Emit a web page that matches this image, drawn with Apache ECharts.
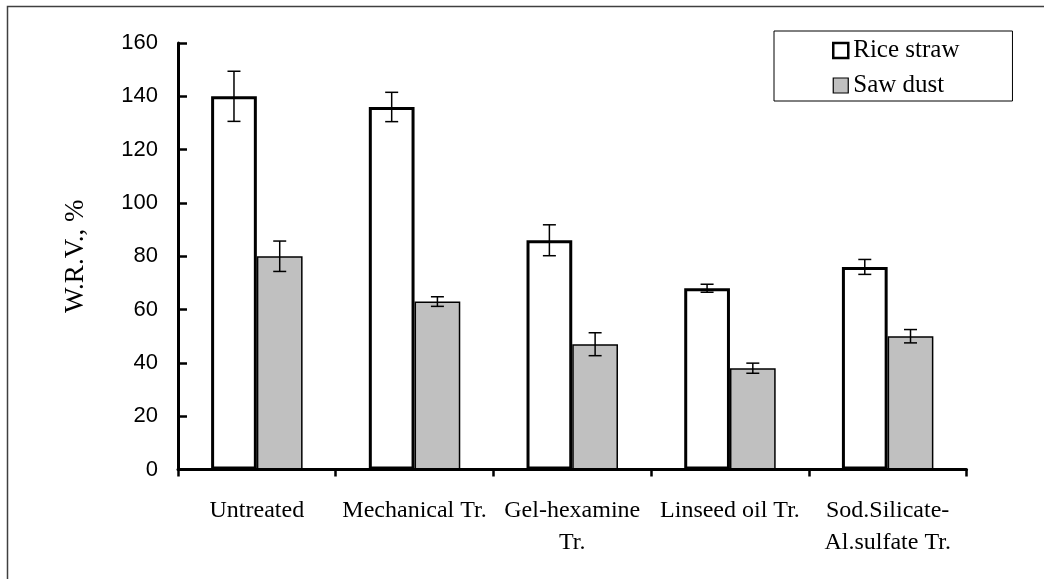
<!DOCTYPE html>
<html>
<head>
<meta charset="utf-8">
<script src="https://cdn.jsdelivr.net/npm/echarts@6/dist/echarts.min.js"></script>
<style>
html,body{margin:0;padding:0;background:#fff;}
#chart{width:1044px;height:579px;}
</style>
</head>
<body>
<div id="chart"></div>
<script>
const categories = ['Untreated', 'Mechanical Tr.', 'Gel-hexamine\nTr.', 'Linseed oil Tr.', 'Sod.Silicate-\nAl.sulfate Tr.'];
const riceStraw = [140, 136, 86, 68, 76];
const riceStrawErr = [9.4, 5.5, 5.8, 1.5, 2.8];
const sawDust = [80, 63, 47, 38, 50];
const sawDustErr = [5.7, 1.8, 4.3, 1.9, 2.5];
const yTicks = [0, 20, 40, 60, 80, 100, 120, 140, 160];

const SERIF = "'Liberation Serif','Times New Roman',serif";
const SANS = "'Liberation Sans',Arial,sans-serif";
const BAR_FRAC = 0.29;

function errData(vals, errs) {
  return vals.map((v, i) => [i, v, errs[i]]);
}
function errRender(side) {
  return function (params, api) {
    const i = api.value(0), v = api.value(1), e = api.value(2);
    const band = api.size([1, 0])[0];
    const off = side * band * BAR_FRAC / 2;
    const top = api.coord([i, v + e]);
    const bot = api.coord([i, v - e]);
    const x = top[0] + off;
    const cap = 6.5;
    const st = { stroke: '#000', lineWidth: 1.5 };
    return {
      type: 'group',
      children: [
        { type: 'line', shape: { x1: x, y1: top[1], x2: x, y2: bot[1] }, style: st },
        { type: 'line', shape: { x1: x - cap, y1: top[1], x2: x + cap, y2: top[1] }, style: st },
        { type: 'line', shape: { x1: x - cap, y1: bot[1], x2: x + cap, y2: bot[1] }, style: st }
      ]
    };
  };
}

const chart = echarts.init(document.getElementById('chart'), null, { renderer: 'canvas' });
chart.setOption({
  backgroundColor: '#fff',
  animation: false,
  graphic: [{
    type: 'rect', z: 0,
    shape: { x: 7.5, y: 6.5, width: 1100, height: 700 },
    style: { fill: 'none', stroke: '#404040', lineWidth: 1.5 }
  }],
  grid: { left: 178, right: 77.5, top: 43, bottom: 109.5 },
  legend: {
    left: 774, top: 31,
    orient: 'vertical',
    padding: [7, 53, 3, 58],
    borderColor: '#000', borderWidth: 1,
    backgroundColor: '#fff',
    itemWidth: 15, itemHeight: 15,
    itemGap: 10, itemTextGap: 9,
    textStyle: { fontFamily: SERIF, fontSize: 25, color: '#000' },
    data: [
      { name: 'Rice straw', icon: 'rect', itemStyle: { color: '#fff', borderColor: '#000', borderWidth: 2.5 } },
      { name: 'Saw dust', icon: 'rect', itemStyle: { color: '#c0c0c0', borderColor: '#000', borderWidth: 1.2 } }
    ]
  },
  xAxis: {
    type: 'category',
    data: categories,
    axisLine: { lineStyle: { color: '#000', width: 3 } },
    axisTick: { show: true, length: 7, lineStyle: { color: '#000', width: 2.5 } },
    axisLabel: { interval: 0, margin: 25, fontFamily: SERIF, fontSize: 24, lineHeight: 32, color: '#000' }
  },
  yAxis: {
    type: 'value',
    min: 0, max: 160, interval: 20,
    name: 'W.R.V., %',
    nameLocation: 'middle',
    nameGap: 89,
    nameRotate: 90,
    nameTextStyle: { fontFamily: SERIF, fontSize: 27, color: '#000' },
    axisLine: { show: true, lineStyle: { color: '#000', width: 3 } },
    axisTick: { show: true, inside: true, length: 9, lineStyle: { color: '#000', width: 2.5 } },
    splitLine: { show: false },
    axisLabel: {
      margin: 20, fontFamily: SANS, fontSize: 22, color: '#000',
      formatter: v => yTicks.includes(v) ? String(v) : ''
    }
  },
  series: [
    {
      name: 'Rice straw', type: 'bar', data: riceStraw,
      barWidth: (BAR_FRAC * 100) + '%', barGap: '0%',
      itemStyle: { color: '#fff', borderColor: '#000', borderWidth: 3 }
    },
    {
      name: 'Saw dust', type: 'bar', data: sawDust,
      barWidth: (BAR_FRAC * 100) + '%', barGap: '0%',
      itemStyle: { color: '#c0c0c0', borderColor: '#000', borderWidth: 1.5 }
    },
    {
      type: 'custom', name: 'riceErr', renderItem: errRender(-1),
      data: errData(riceStraw, riceStrawErr), z: 5,
      encode: { x: 0, y: [1] }
    },
    {
      type: 'custom', name: 'sawErr', renderItem: errRender(1),
      data: errData(sawDust, sawDustErr), z: 5,
      encode: { x: 0, y: [1] }
    }
  ]
});
</script>
</body>
</html>
